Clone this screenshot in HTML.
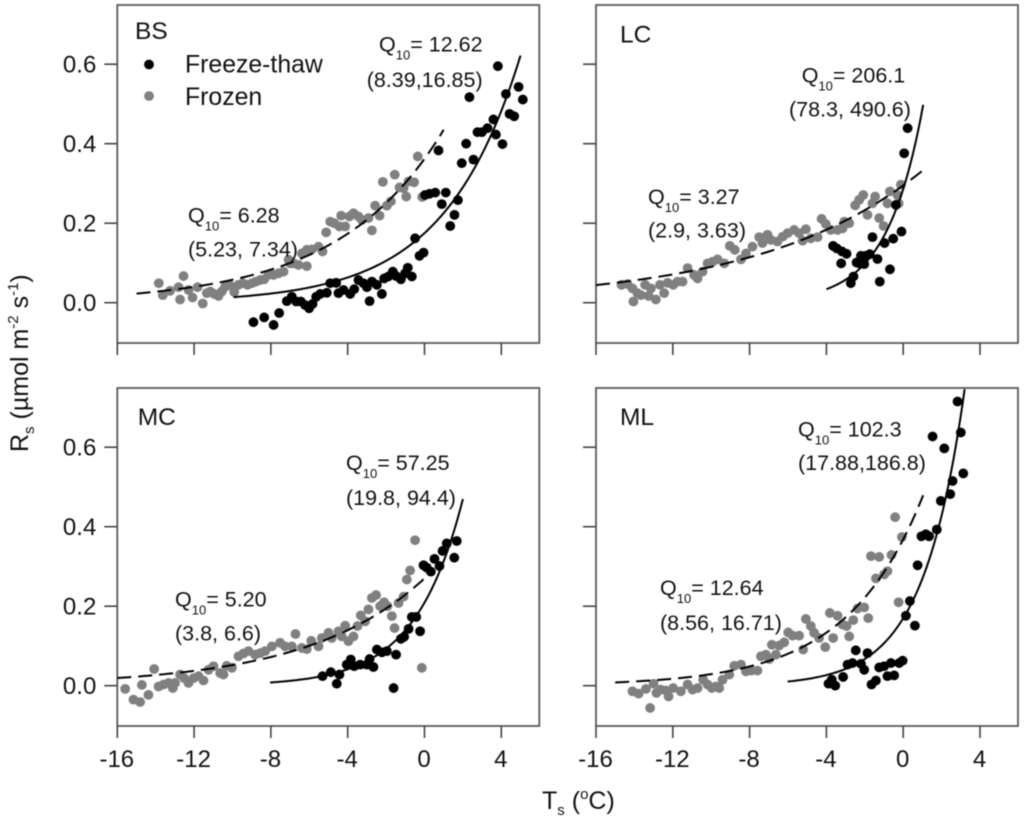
<!DOCTYPE html>
<html lang="en">
<head>
<meta charset="utf-8">
<title>Soil respiration vs soil temperature</title>
<style>
html,body{margin:0;padding:0;background:#fff;}
svg{display:block;filter:blur(.45px);}
text{font-family:"Liberation Sans",Arial,sans-serif;fill:#111;}
.tick-label{font-size:24px;}
.note{font-size:21.5px;}
.sub{font-size:13px;}
.title-sub{font-size:15px;}
.panel-name{font-size:24.5px;}
.legend-text{font-size:24.8px;}
.axis-title{font-size:25px;}
</style>
</head>
<body>
<svg id="chart" xmlns="http://www.w3.org/2000/svg" width="1024" height="824" viewBox="0 0 1024 824">
  <rect x="0" y="0" width="1024" height="824" fill="#fff"/>
  <g id="plots"></g>

  <g>
    <text class="panel-name" x="135" y="39">BS</text>
    <text class="legend-text" x="185" y="72.7">Freeze-thaw</text>
    <text class="legend-text" x="185" y="105">Frozen</text>
    <circle cx="149" cy="64.5" r="4.9" fill="#000"/>
    <circle cx="149" cy="96" r="4.9" fill="#808080"/>
    <text class="note" x="379" y="51.7">Q<tspan class="sub" dy="8">10</tspan><tspan dy="-8">= 12.62</tspan></text>
    <text class="note" x="366.7" y="87">(8.39,16.85)</text>
    <text class="note" x="188" y="222.7">Q<tspan class="sub" dy="8">10</tspan><tspan dy="-8">= 6.28</tspan></text>
    <text class="note" x="188" y="256.7">(5.23, 7.34)</text>
  </g>
  <g>
    <text class="panel-name" x="620" y="42.3">LC</text>
    <text class="note" x="801.7" y="82.7">Q<tspan class="sub" dy="8">10</tspan><tspan dy="-8">= 206.1</tspan></text>
    <text class="note" x="789" y="116.7">(78.3, 490.6)</text>
    <text class="note" x="648" y="204">Q<tspan class="sub" dy="8">10</tspan><tspan dy="-8">= 3.27</tspan></text>
    <text class="note" x="648" y="237.7">(2.9, 3.63)</text>
  </g>
  <g>
    <text class="panel-name" x="137.7" y="425">MC</text>
    <text class="note" x="346" y="470">Q<tspan class="sub" dy="8">10</tspan><tspan dy="-8">= 57.25</tspan></text>
    <text class="note" x="346" y="505">(19.8, 94.4)</text>
    <text class="note" x="175" y="606.7">Q<tspan class="sub" dy="8">10</tspan><tspan dy="-8">= 5.20</tspan></text>
    <text class="note" x="175" y="640.7">(3.8, 6.6)</text>
  </g>
  <g>
    <text class="panel-name" x="620" y="425">ML</text>
    <text class="note" x="798" y="436.7">Q<tspan class="sub" dy="8">10</tspan><tspan dy="-8">= 102.3</tspan></text>
    <text class="note" x="798" y="470">(17.88,186.8)</text>
    <text class="note" x="660" y="595">Q<tspan class="sub" dy="8">10</tspan><tspan dy="-8">= 12.64</tspan></text>
    <text class="note" x="660" y="630">(8.56, 16.71)</text>
  </g>

  <text class="axis-title" transform="translate(28,452) rotate(-90)">R<tspan class="title-sub" dy="6">s</tspan><tspan dy="-6"> (µmol m</tspan><tspan class="title-sub" dy="-10">-2</tspan><tspan dy="10"> s</tspan><tspan class="title-sub" dy="-10">-1</tspan><tspan dy="10">)</tspan></text>
  <text class="axis-title" x="542" y="809">T<tspan class="title-sub" dy="6">s</tspan><tspan dy="-6"> (</tspan><tspan class="title-sub" dy="-10">o</tspan><tspan dy="10">C)</tspan></text>
</svg>

<script>
// Axis tick labels
const xTickValues = [-16, -12, -8, -4, 0, 4];
const yTickValues = [0.0, 0.2, 0.4, 0.6];
const yTickLabels = ['0.0', '0.2', '0.4', '0.6'];

// BS
const bsThawX = [-8.91,-8.35,-7.86,-7.57,-7.17,-6.91,-6.68,-6.44,-6.22,-6.01,-5.83,-5.64,-5.43,-5.09,-4.91,-4.60,-4.48,-4.22,-3.87,-3.66,-3.44,-3.18,-3.00,-2.86,-2.74,-2.48,-2.22,-2.10,-1.88,-1.65,-1.48,-1.23,-1.01,-0.87,-0.66,-0.49,-0.26,-0.05,0.03,0.26,0.56,0.73,0.90,1.11,1.34,1.56,1.74,1.94,2.17,2.34,2.55,2.76,2.99,3.28,3.59,3.72,3.82,4.06,4.24,4.43,4.67,4.90,5.12];
const bsThawY = [-0.049,-0.037,-0.056,-0.026,0.004,0.015,0.003,0.003,-0.006,-0.014,-0.003,0.015,0.022,0.025,0.049,0.050,0.024,0.032,0.022,0.034,0.057,0.049,0.039,0.004,0.053,0.045,0.022,0.061,0.066,0.078,0.067,0.059,0.074,0.088,0.066,0.162,0.118,0.126,0.271,0.274,0.277,0.383,0.248,0.277,0.193,0.221,0.258,0.351,0.400,0.517,0.360,0.429,0.429,0.439,0.461,0.423,0.595,0.399,0.525,0.475,0.469,0.543,0.511];
const bsFrozenX = [-13.84,-13.63,-13.25,-12.81,-12.73,-12.55,-12.29,-12.08,-11.82,-11.55,-11.34,-11.16,-10.95,-10.73,-10.56,-10.38,-10.16,-9.91,-9.69,-9.46,-9.22,-8.99,-8.78,-8.56,-8.35,-8.13,-7.86,-7.60,-7.34,-7.08,-7.00,-6.82,-6.56,-6.13,-6.39,-6.13,-5.87,-5.52,-5.31,-5.12,-4.91,-4.70,-4.43,-4.34,-4.13,-3.91,-3.70,-3.44,-3.26,-2.92,-2.74,-2.57,-2.34,-1.96,-1.75,-2.17,-1.55,-1.30,-1.09,-0.95,-0.83,-0.54,-0.35,-0.12];
const bsFrozenY = [0.049,0.019,0.030,0.039,0.008,0.067,0.032,0.013,0.039,-0.002,0.024,0.028,0.022,0.017,0.028,0.040,0.045,0.027,0.045,0.049,0.045,0.049,0.053,0.057,0.059,0.070,0.070,0.074,0.078,0.108,0.099,0.099,0.095,0.092,0.124,0.133,0.134,0.141,0.129,0.177,0.204,0.200,0.192,0.219,0.192,0.217,0.225,0.217,0.208,0.213,0.182,0.244,0.219,0.244,0.255,0.304,0.322,0.290,0.288,0.267,0.305,0.303,0.368,0.266];
const bsThawFit = [0.175, 12.62, -9.95, 5.0];
const bsFrozenFit = [0.362, 6.28, -15.0, 1.0];

// LC
const lcThawX = [-3.65,-3.47,-3.19,-2.95,-3.23,-2.73,-2.59,-2.43,-2.20,-2.29,-2.03,-1.94,-1.74,-1.60,-1.34,-1.22,-0.97,-0.69,-0.52,-0.09,-0.38,0.05,0.23];
const lcThawY = [0.143,0.137,0.129,0.123,0.099,0.049,0.066,0.101,0.118,0.099,0.097,0.118,0.122,0.165,0.110,0.053,0.150,0.084,0.161,0.179,0.246,0.376,0.439];
const lcFrozenX = [-14.67,-14.36,-14.10,-14.05,-13.84,-13.66,-13.44,-13.26,-13.14,-12.88,-12.67,-12.45,-12.27,-11.98,-11.75,-11.49,-11.23,-10.89,-10.71,-10.45,-10.19,-9.93,-9.67,-9.32,-9.03,-8.77,-8.45,-8.19,-7.85,-7.50,-7.33,-7.07,-6.89,-6.55,-6.28,-6.02,-5.68,-5.42,-5.07,-5.24,-4.81,-4.46,-4.25,-4.03,-3.77,-3.42,-3.16,-3.07,-2.81,-2.50,-2.29,-2.08,-1.86,-1.60,-1.46,-1.25,-1.02,-0.82,-0.69,-0.30,-0.12,-0.24];
const lcFrozenY = [0.045,0.047,0.036,0.003,0.024,0.019,0.045,0.017,0.036,0.008,0.045,0.024,0.050,0.045,0.053,0.053,0.087,0.070,0.061,0.078,0.099,0.103,0.109,0.099,0.143,0.133,0.109,0.124,0.141,0.165,0.150,0.171,0.158,0.154,0.166,0.175,0.183,0.175,0.185,0.156,0.162,0.165,0.211,0.198,0.183,0.183,0.187,0.204,0.200,0.245,0.259,0.271,0.221,0.250,0.267,0.213,0.193,0.250,0.280,0.271,0.297,0.250];
const lcThawFit = [0.286, 206.1, -4.0, 1.04];
const lcFrozenFit = [0.295, 3.27, -16.0, 1.04];

// MC
const mcThawX = [-5.31,-4.88,-4.57,-4.43,-4.05,-3.84,-3.66,-3.35,-3.00,-2.86,-2.66,-2.48,-2.22,-1.96,-1.61,-1.48,-1.23,-1.06,-0.83,-0.66,-0.43,-0.23,-0.05,0.12,0.33,0.52,0.78,0.94,1.16,1.55,1.68];
const mcThawY = [0.024,0.034,0.005,0.028,0.053,0.066,0.049,0.053,0.053,0.067,0.047,0.091,0.084,0.087,-0.006,0.078,0.118,0.123,0.143,0.173,0.173,0.137,0.303,0.297,0.287,0.319,0.301,0.339,0.358,0.322,0.364];
const mcFrozenX = [-15.59,-15.16,-14.81,-14.72,-14.38,-14.08,-13.85,-13.59,-13.33,-13.11,-12.99,-12.73,-12.52,-12.29,-12.03,-11.77,-11.51,-11.25,-10.99,-10.64,-10.47,-10.30,-10.03,-9.69,-9.43,-9.17,-8.82,-8.56,-8.30,-7.95,-7.52,-7.26,-6.91,-6.72,-6.39,-6.13,-5.90,-5.52,-5.35,-5.00,-4.83,-4.48,-4.13,-4.31,-3.96,-3.70,-3.49,-3.32,-3.09,-2.92,-2.74,-2.52,-2.31,-2.10,-1.93,-1.70,-1.56,-1.35,-1.09,-0.92,-0.75,-0.49,-0.14];
const mcFrozenY = [-0.008,-0.035,-0.041,0.002,-0.023,0.042,-0.002,0.003,0.007,-0.006,0.007,0.028,0.019,0.007,0.019,0.024,0.013,0.040,0.049,0.032,0.028,0.050,0.045,0.074,0.081,0.087,0.078,0.082,0.087,0.099,0.108,0.099,0.099,0.130,0.095,0.092,0.113,0.099,0.120,0.133,0.120,0.137,0.151,0.124,0.112,0.124,0.150,0.177,0.162,0.192,0.221,0.228,0.200,0.210,0.200,0.175,0.145,0.208,0.224,0.267,0.290,0.366,0.045];
const mcThawFit = [0.209, 57.25, -8.04, 2.0];
const mcFrozenFit = [0.27, 5.20, -16.0, -0.05];

// ML
const mlThawX = [-3.89,-3.72,-3.54,-3.13,-2.90,-2.64,-2.47,-2.20,-2.03,-1.86,-1.65,-1.42,-1.25,-0.99,-0.82,-0.64,-0.47,-0.21,-0.03,0.14,0.35,0.61,0.75,0.95,1.18,1.35,1.75,1.96,2.45,2.57,1.53,2.14,3.00,2.83,3.13];
const mlThawY = [0.005,0.015,0.000,0.022,0.053,0.057,0.089,0.055,0.040,0.082,0.003,0.013,0.046,0.049,0.024,0.057,0.026,0.057,0.063,0.176,0.213,0.151,0.303,0.376,0.381,0.376,0.393,0.465,0.482,0.515,0.627,0.597,0.637,0.715,0.534];
const mlFrozenX = [-14.10,-13.78,-13.40,-13.18,-13.00,-12.85,-12.62,-12.36,-12.22,-11.98,-11.58,-11.23,-10.97,-10.71,-10.42,-10.19,-9.97,-9.76,-9.58,-9.41,-9.06,-8.80,-8.45,-8.19,-7.90,-7.59,-7.41,-7.15,-6.98,-6.63,-6.84,-6.46,-6.20,-5.99,-5.76,-5.42,-5.21,-5.07,-4.81,-4.64,-4.38,-4.06,-3.82,-3.65,-3.42,-3.16,-2.95,-2.81,-2.60,-2.38,-2.03,-1.82,-1.68,-1.42,-1.25,-0.99,-0.82,-0.61,-0.42,-0.24,-0.07];
const mlFrozenY = [-0.014,-0.020,-0.008,-0.056,0.005,-0.018,-0.010,-0.012,-0.027,-0.006,-0.014,0.003,-0.010,-0.006,0.015,0.003,-0.006,-0.002,-0.006,0.015,0.028,0.050,0.053,0.036,0.038,0.038,0.074,0.078,0.067,0.078,0.103,0.101,0.109,0.134,0.126,0.126,0.091,0.168,0.150,0.133,0.120,0.097,0.183,0.120,0.176,0.154,0.150,0.124,0.165,0.194,0.197,0.170,0.326,0.270,0.324,0.280,0.288,0.329,0.424,0.210,0.374];
const mlThawFit = [0.1696, 102.3, -6.02, 3.2];
const mlFrozenFit = [0.368, 12.64, -15.0, 1.04];

const svgNS = 'http://www.w3.org/2000/svg';
const root = document.getElementById('plots');

function make(tag, parent, attrs) {
  const el = document.createElementNS(svgNS, tag);
  for (const k in attrs) el.setAttribute(k, attrs[k]);
  parent.appendChild(el);
  return el;
}

function drawPanel(id, left, top, thawX, thawY, frozenX, frozenY, thawFit, frozenFit, showX, showY) {
  const width = 422, pxPerX = 19.2, pxPerY = 397.5;
  const zeroY = top + 297.7;
  const bottom = top + 338;
  const sx = function (v) { return left + (v + 16) * pxPerX; };
  const sy = function (v) { return zeroY - v * pxPerY; };

  const g = make('g', root, {});
  
  

  const frame = make('rect', g, { x: left, y: top, width: width, height: bottom - top, fill: 'none', stroke: '#5a5a5a', 'stroke-width': 1.8 });
  
  

  xTickValues.forEach(function (v) {
    const t = make('line', g, { x1: sx(v), x2: sx(v), y1: bottom, y2: bottom + 12, stroke: '#444', 'stroke-width': 1.6 });
    
    
    if (showX) {
      const l = make('text', g, { x: sx(v) - 0.5, y: bottom + 41, 'text-anchor': 'middle', class: 'tick-label' });
      l.textContent = String(v);
      
      
    }
  });

  yTickValues.forEach(function (v, i) {
    const t = make('line', g, { x1: left - 13, x2: left, y1: sy(v), y2: sy(v), stroke: '#444', 'stroke-width': 1.6 });
    
    
    if (showY) {
      const l = make('text', g, { x: left - 21, y: sy(v) + 8.5, 'text-anchor': 'end', class: 'tick-label' });
      l.textContent = yTickLabels[i];
      
      
    }
  });

  frozenX.forEach(function (x, i) {
    const c = make('circle', g, { cx: sx(x), cy: sy(frozenY[i]), r: 4.9, fill: '#808080' });
    
    
  });
  thawX.forEach(function (x, i) {
    const c = make('circle', g, { cx: sx(x), cy: sy(thawY[i]), r: 4.9, fill: '#000' });
    
    
  });

  function fitPath(fit) {
    const amp = fit[0], q10 = fit[1], x0 = fit[2], x1 = fit[3];
    const b = Math.log(q10) / 10;
    let d = '';
    for (let i = 0; i <= 80; i++) {
      const x = x0 + (x1 - x0) * i / 80;
      d += (i ? 'L' : 'M') + sx(x).toFixed(2) + ' ' + sy(amp * Math.exp(b * x)).toFixed(2);
    }
    return d;
  }
  const dashed = make('path', g, { d: fitPath(frozenFit), fill: 'none', stroke: '#000', 'stroke-width': 2, 'stroke-dasharray': '14 7' });
  
  
  const solid = make('path', g, { d: fitPath(thawFit), fill: 'none', stroke: '#000', 'stroke-width': 2 });
  
  
}

drawPanel('bs', 117.3, 5, bsThawX, bsThawY, bsFrozenX, bsFrozenY, bsThawFit, bsFrozenFit, false, true);
drawPanel('lc', 596, 5, lcThawX, lcThawY, lcFrozenX, lcFrozenY, lcThawFit, lcFrozenFit, false, false);
drawPanel('mc', 117.3, 388, mcThawX, mcThawY, mcFrozenX, mcFrozenY, mcThawFit, mcFrozenFit, true, true);
drawPanel('ml', 596, 388, mlThawX, mlThawY, mlFrozenX, mlFrozenY, mlThawFit, mlFrozenFit, true, false);
</script>
</body>
</html>
